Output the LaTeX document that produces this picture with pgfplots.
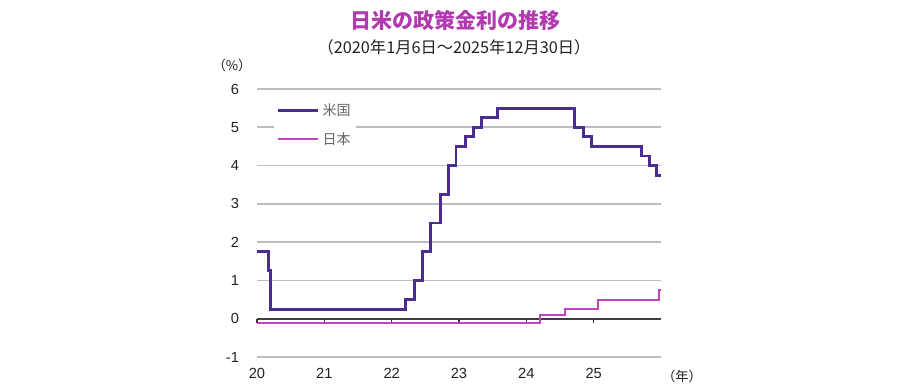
\documentclass[border=0pt]{standalone}
\usepackage{fontspec}
\setmainfont{Liberation Sans}
\newfontfamily\cjk{Noto Sans CJK JP}
\usepackage{pgfplots}
\pgfplotsset{compat=1.18}
\definecolor{usc}{HTML}{4B2D91}
\definecolor{jpc}{HTML}{C043C0}
\definecolor{ttl}{HTML}{B23AB0}
\definecolor{gridc}{HTML}{BDBDBD}
\definecolor{txt}{HTML}{222222}
\begin{document}
\begin{tikzpicture}
\path[use as bounding box,fill=white] (0pt,0pt) rectangle (675pt,292.5pt);
\node[font=\cjk\fontsize{15.75}{18}\selectfont\bfseries,text=ttl] at (341.25pt,277.5pt) {日米の政策金利の推移};
\node[font=\cjk\fontsize{12.2}{14}\selectfont,text=txt] at (340.5pt,257.25pt) {（2020年1月6日～2025年12月30日）};
\node[font=\cjk\fontsize{10}{12}\selectfont,text=txt] at (174pt,243.75pt) {（\%）};
\node[font=\cjk\fontsize{10}{12}\selectfont,text=txt] at (511.5pt,10.5pt) {（年）};
\begin{axis}[
  at={(192.75pt,24.75pt)}, anchor=south west,
  scale only axis, width=303pt, height=201pt,
  xmin=2020, xmax=2026, ymin=-1, ymax=6,
  xtick={2020,2021,2022,2023,2024,2025},
  xticklabels={20,21,22,23,24,25},
  ytick={-1,0,1,2,3,4,5,6},
  ymajorgrids, grid style={gridc, line width=1.2pt},
  axis line style={draw=none},
  major tick length=0pt,
  tick label style={font=\fontsize{11}{12}\selectfont, text=txt},
  /pgf/number format/assume math mode=true,
  xticklabel style={yshift=-5pt},
  yticklabel style={xshift=-10pt},
  clip=false,
  legend style={at={(0.042,0.965)}, anchor=north west, draw=none, fill=white,
    font=\cjk\fontsize{10.5}{12}\selectfont, text=black!60,
    row sep=7pt, inner xsep=2pt, inner ysep=2pt},
  legend cell align=left,
  legend image code/.code={\draw[#1] (0pt,0pt)--(30pt,0pt);},
]
\draw[black!75, line width=1.3pt] (axis cs:2020,0) -- (axis cs:2026,0);
\draw[black!80, line width=0.9pt] (axis cs:2020,0) -- ++(0pt,-3.5pt);
\draw[black!80, line width=0.9pt] (axis cs:2021,0) -- ++(0pt,-3.5pt);
\draw[black!80, line width=0.9pt] (axis cs:2022,0) -- ++(0pt,-3.5pt);
\draw[black!80, line width=0.9pt] (axis cs:2023,0) -- ++(0pt,-3.5pt);
\draw[black!80, line width=0.9pt] (axis cs:2024,0) -- ++(0pt,-3.5pt);
\draw[black!80, line width=0.9pt] (axis cs:2025,0) -- ++(0pt,-3.5pt);
\addplot[const plot, usc, line width=2.2pt] coordinates {
(2020.0,1.75) (2020.17,1.25) (2020.205,0.25) (2022.21,0.5) (2022.34,1.0)
(2022.455,1.75) (2022.57,2.5) (2022.72,3.25) (2022.84,4.0) (2022.955,4.5)
(2023.09,4.75) (2023.22,5.0) (2023.34,5.25) (2023.57,5.5) (2024.715,5.0)
(2024.855,4.75) (2024.965,4.5) (2025.71,4.25) (2025.83,4.0) (2025.94,3.75)
(2025.997,3.75)};
\addlegendentry{米国}
\addplot[const plot, jpc, line width=1.5pt] coordinates {
(2020.0,-0.1) (2024.21,0.1) (2024.58,0.25) (2025.065,0.5) (2025.965,0.75) (2025.997,0.75)};
\addlegendentry{日本}
\end{axis}
\end{tikzpicture}
\end{document}
